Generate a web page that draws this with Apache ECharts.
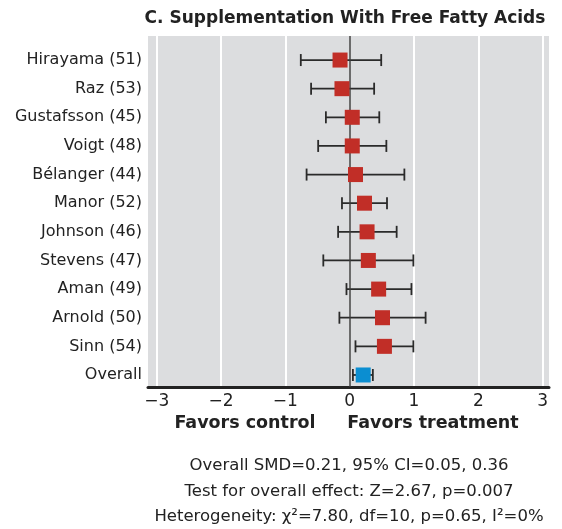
<!DOCTYPE html>
<html>
<head>
<meta charset="utf-8">
<script src="https://cdn.jsdelivr.net/npm/echarts@6/dist/echarts.min.js"></script>
<style>html,body{margin:0;padding:0;background:#fff;}#c{width:562px;height:529px;}</style>
</head>
<body>
<div id="c"></div>
<script>
// Studies listed top to bottom
const studies = ['Hirayama (51)','Raz (53)','Gustafsson (45)','Voigt (48)','Bélanger (44)','Manor (52)','Johnson (46)','Stevens (47)','Aman (49)','Arnold (50)','Sinn (54)','Overall'];
const smd   = [-0.15,-0.12, 0.04, 0.04, 0.09, 0.23, 0.27, 0.29, 0.45, 0.51, 0.54, 0.21];
const ciLow = [-0.76,-0.60,-0.37,-0.49,-0.67,-0.12,-0.18,-0.41,-0.05,-0.16, 0.09, 0.05];
const ciHigh= [ 0.49, 0.38, 0.46, 0.57, 0.85, 0.58, 0.73, 0.99, 0.96, 1.18, 0.99, 0.36];
const xTicks = [-3,-2,-1,0,1,2,3];
const titleText = 'C. Supplementation With Free Fatty Acids';
const footerLines = ['Overall SMD=0.21, 95% CI=0.05, 0.36','Test for overall effect: Z=2.67, p=0.007','Heterogeneity: χ²=7.80, df=10, p=0.65, I²=0%'];

const FONT = '"DejaVu Sans", sans-serif';
const n = studies.length;
const rowPos = studies.map((_, i) => n - 1 - i);

const barData = studies.map((s, i) => [ciLow[i], ciHigh[i], rowPos[i]]);
const pointData = studies.map((s, i) => ({
  value: [smd[i], rowPos[i]],
  itemStyle: { color: s === 'Overall' ? '#0B8ED1' : '#C12E27', opacity: 1 }
}));

const chart = echarts.init(document.getElementById('c'), null, { renderer: 'canvas' });
chart.setOption({
  animation: false,
  graphic: [
    { type: 'text', x: 345, y: 19, style: { text: titleText, fontFamily: FONT, fontWeight: 'bold', fontSize: 17, fill: '#222', align: 'center', verticalAlign: 'middle' } },
    { type: 'text', x: 245, y: 423, style: { text: 'Favors control', fontFamily: FONT, fontWeight: 'bold', fontSize: 17.5, fill: '#222', align: 'center', verticalAlign: 'middle' } },
    { type: 'text', x: 433, y: 423, style: { text: 'Favors treatment', fontFamily: FONT, fontWeight: 'bold', fontSize: 17.5, fill: '#222', align: 'center', verticalAlign: 'middle' } },
    ...footerLines.map((t, i) => ({
      type: 'text', x: 349, y: 466 + i * 25.5,
      style: { text: t, fontFamily: FONT, fontSize: 16.5, fill: '#222', align: 'center', verticalAlign: 'middle' }
    }))
  ],
  grid: { left: 148, right: 13, top: 36, bottom: 142, show: true, backgroundColor: '#DCDDDF', borderWidth: 0 },
  xAxis: {
    type: 'value', min: -3.135, max: 3.098,
    axisLine: { show: true, onZero: false, lineStyle: { color: '#222', width: 3 } },
    axisTick: { show: false, customValues: xTicks },
    axisLabel: {
      customValues: xTicks, margin: 6,
      formatter: v => String(v).replace('-', '\u2212'),
      fontFamily: FONT, fontSize: 17, color: '#222'
    },
    splitLine: { show: true, lineStyle: { color: '#ffffff', width: 2 } }
  },
  yAxis: {
    type: 'value', min: -0.42, max: 11.84,
    axisLine: { show: false }, axisTick: { show: false }, splitLine: { show: false },
    axisLabel: {
      customValues: rowPos, margin: 6,
      formatter: v => studies[n - 1 - Math.round(v)],
      fontFamily: FONT, fontSize: 16, color: '#222'
    }
  },
  series: [
    {
      type: 'custom',
      data: barData,
      encode: { x: [0, 1], y: 2 },
      z: 3,
      markLine: {
        silent: true, symbol: 'none', label: { show: false },
        lineStyle: { color: '#3a3a3a', width: 1.5, type: 'solid' },
        data: [{ xAxis: 0 }]
      },
      renderItem: (params, api) => {
        const lo = api.coord([api.value(0), api.value(2)]);
        const hi = api.coord([api.value(1), api.value(2)]);
        const h = 6;
        const st = { stroke: '#2a2a2a', lineWidth: 1.8 };
        return {
          type: 'group',
          children: [
            { type: 'line', shape: { x1: lo[0], y1: lo[1], x2: hi[0], y2: hi[1] }, style: st },
            { type: 'line', shape: { x1: lo[0], y1: lo[1] - h, x2: lo[0], y2: lo[1] + h }, style: st },
            { type: 'line', shape: { x1: hi[0], y1: hi[1] - h, x2: hi[0], y2: hi[1] + h }, style: st }
          ]
        };
      }
    },
    {
      type: 'scatter',
      data: pointData,
      symbol: 'rect', symbolSize: 15, z: 5
    }
  ]
});
</script>
</body>
</html>
